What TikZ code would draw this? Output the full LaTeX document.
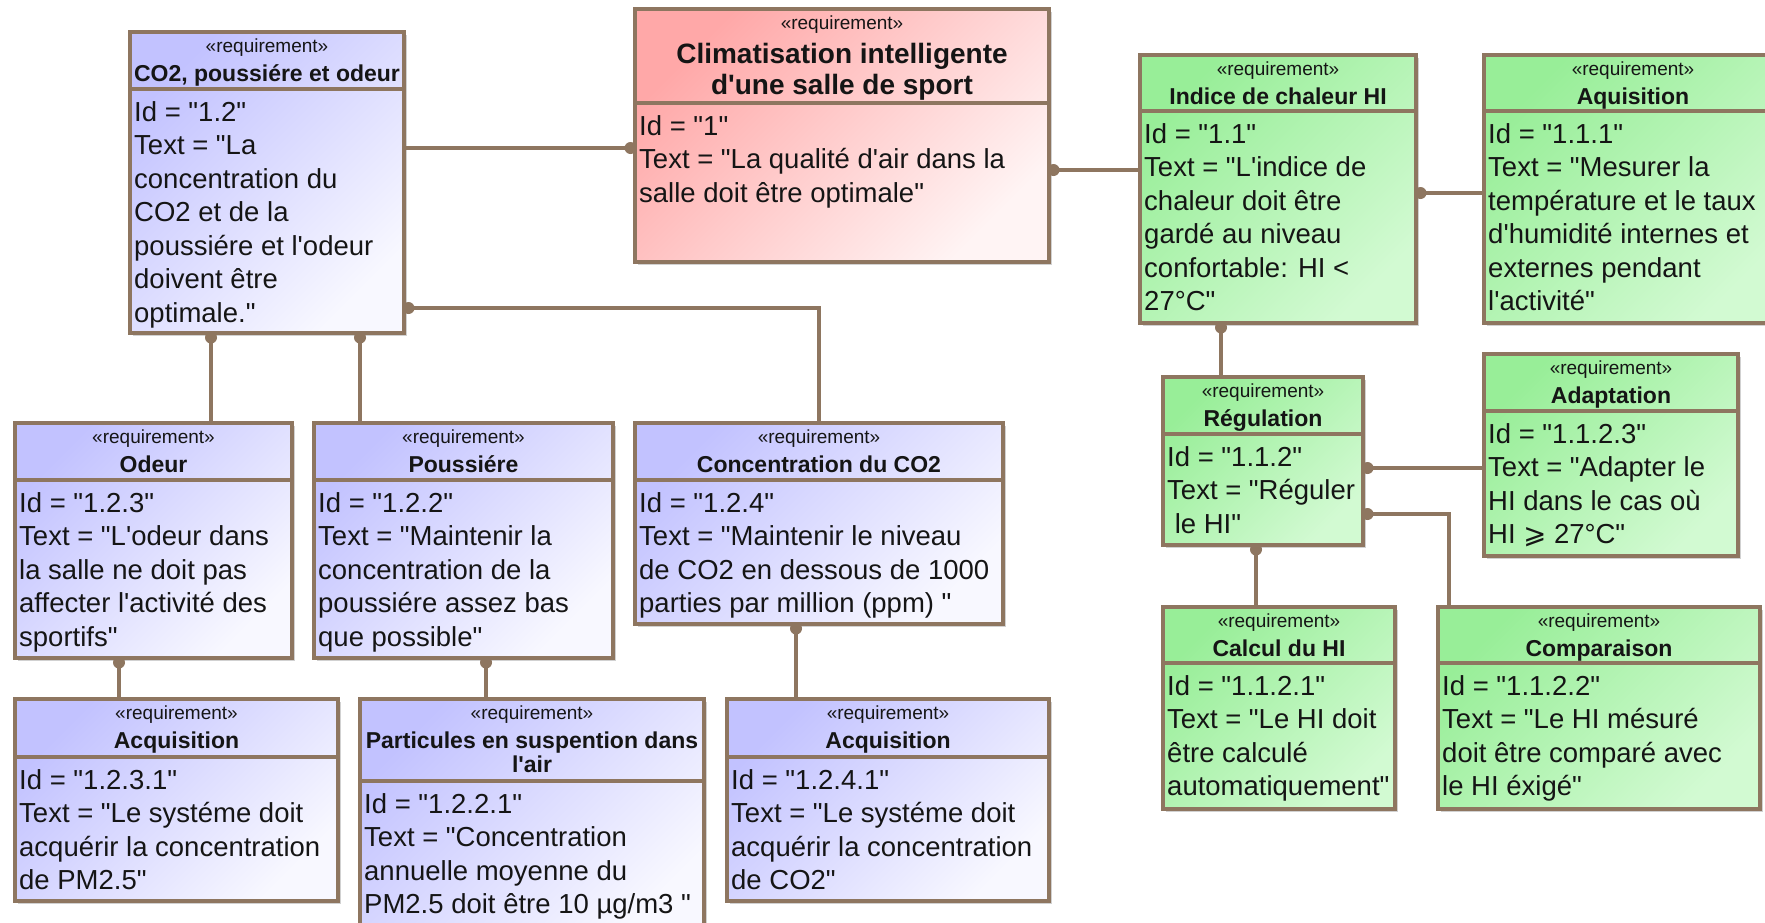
\documentclass[tikz,border=0pt]{standalone}
\usepackage{fontspec}
\setmainfont{Liberation Sans}[Ligatures=TeXOff]
\newfontfamily\symfont{DejaVu Sans}
\usetikzlibrary{shadows}
\definecolor{lnc}{HTML}{8E7660}
\definecolor{bluA}{HTML}{C2C2FF}
\definecolor{bluB}{HTML}{F8F8FF}
\definecolor{redA}{HTML}{FFA8A8}
\definecolor{redB}{HTML}{FFF4F4}
\definecolor{grnA}{HTML}{98EE98}
\definecolor{grnB}{HTML}{D2FAD2}
\definecolor{txc}{HTML}{151515}
\tikzset{
  box/.style={draw=lnc, line width=3.2pt, inner sep=0pt, outer sep=0pt,
    drop shadow={shadow xshift=2.5pt, shadow yshift=-2.5pt, opacity=0.18, fill=black}},
  bluebox/.style={box, top color=bluA, bottom color=bluB, shading angle=45},
  redbox/.style={box, top color=redA, bottom color=redB, shading angle=45},
  greenbox/.style={box, top color=grnA, bottom color=grnB, shading angle=45},
  sep/.style={draw=lnc, line width=3.2pt},
  stereo/.style={inner sep=0pt, text=txc, font=\fontsize{19}{22}\selectfont},
  ttl/.style={inner sep=0pt, text=txc, align=center, font=\bfseries\fontsize{23}{24}\selectfont},
  bigttl/.style={inner sep=0pt, text=txc, align=center, font=\bfseries\fontsize{28}{31}\selectfont},
  bodytxt/.style={inner sep=0pt, text=txc, align=left, font=\fontsize{27.5}{33.5}\selectfont},
  conn/.style={draw=lnc, line width=3.2pt},
  pin/.style={fill=lnc}
}
\newcommand{\reqbox}[9]{%
  \node[#2, minimum width={#6-#4}, minimum height={#7-#5}] (#1) at ({(#4+#6)/2},{(#5+#7)/2}) {};
  \draw[sep] (#4,#8) -- (#6,#8);
  \node[stereo, anchor=base] (#1-s) at ({(#4+#6)/2},{#5+20}) {«requirement»};
  \node[#3, anchor=north] (#1-t) at ({(#4+#6)/2},{#5+31}) {\rule{0pt}{18pt}#9};
}
\newcommand{\reqbody}[4]{%
  \node[bodytxt, anchor=north west] (#1-b) at ({#2+4},{#3+7}) {\rule{0pt}{25pt}#4};
}
\begin{document}
\begin{tikzpicture}[x=1pt,y=-1pt]
\useasboundingbox[fill=white] (0,0) rectangle (1765,922);

% boxes
\reqbox{A}{bluebox}{ttl}{130}{32}{404}{333}{89}{CO2, poussiére et odeur}
\reqbody{A}{130}{89}{Id = "1.2"\\Text = "La\\concentration du\\CO2 et de la\\poussiére et l'odeur\\doivent être\\optimale."}

\reqbox{B}{redbox}{bigttl}{635}{9}{1049}{262}{103}{\rule{0pt}{23pt}Climatisation intelligente\\d'une salle de sport}
\reqbody{B}{635}{103}{Id = "1"\\Text = "La qualité d'air dans la\\salle doit être optimale"}

\reqbox{C}{greenbox}{ttl}{1140}{55}{1416}{323}{111}{Indice de chaleur HI}
\reqbody{C}{1140}{111}{Id = "1.1"\\Text = "L'indice de\\chaleur doit être\\gardé au niveau\\confortable: HI <\\27°C"}

\reqbox{D}{greenbox}{ttl}{1484}{55}{1782}{323}{111}{Aquisition}
\reqbody{D}{1484}{111}{Id = "1.1.1"\\Text = "Mesurer la\\température et le taux\\d'humidité internes et\\externes pendant\\l'activité"}

\reqbox{E}{greenbox}{ttl}{1163}{377}{1363}{545}{434}{Régulation}
\reqbody{E}{1163}{434}{Id = "1.1.2"\\Text = "Réguler\\\hspace*{7.6pt}le HI"}

\reqbox{F}{greenbox}{ttl}{1484}{354}{1738}{556}{411}{Adaptation}
\reqbody{F}{1484}{411}{Id = "1.1.2.3"\\Text = "Adapter le\\HI dans le cas où\\HI {\symfont ⩾} 27°C"}

\reqbox{G}{greenbox}{ttl}{1163}{607}{1395}{809}{663}{Calcul du HI}
\reqbody{G}{1163}{663}{Id = "1.1.2.1"\\Text = "Le HI doit\\être calculé\\automatiquement"}

\reqbox{H}{greenbox}{ttl}{1438}{607}{1760}{809}{663}{Comparaison}
\reqbody{H}{1438}{663}{Id = "1.1.2.2"\\Text = "Le HI mésuré\\doit être comparé avec\\le HI éxigé"}

\reqbox{I}{bluebox}{ttl}{15}{423}{292}{658}{480}{Odeur}
\reqbody{I}{15}{480}{Id = "1.2.3"\\Text = "L'odeur dans\\la salle ne doit pas\\affecter l'activité des\\sportifs"}

\reqbox{J}{bluebox}{ttl}{314}{423}{613}{658}{480}{Poussiére}
\reqbody{J}{314}{480}{Id = "1.2.2"\\Text = "Maintenir la\\concentration de la\\poussiére assez bas\\que possible"}

\reqbox{K}{bluebox}{ttl}{635}{423}{1003}{624}{480}{Concentration du CO2}
\reqbody{K}{635}{480}{Id = "1.2.4"\\Text = "Maintenir le niveau\\de CO2 en dessous de 1000\\parties par million (ppm) "}

\reqbox{L}{bluebox}{ttl}{15}{699}{338}{901}{757}{Acquisition}
\reqbody{L}{15}{757}{Id = "1.2.3.1"\\Text = "Le systéme doit\\acquérir la concentration\\de PM2.5"}

\reqbox{M}{bluebox}{ttl}{360}{699}{704}{935}{781}{Particules en suspention dans\\l'air}
\reqbody{M}{360}{781}{Id = "1.2.2.1"\\Text = "Concentration\\annuelle moyenne du\\PM2.5 doit être 10 µg/m3 "}

\reqbox{N}{bluebox}{ttl}{727}{699}{1049}{901}{757}{Acquisition}
\reqbody{N}{727}{757}{Id = "1.2.4.1"\\Text = "Le systéme doit\\acquérir la concentration\\de CO2"}

% connector guide coordinates
\coordinate (hAB) at (0,148);
\coordinate (hAK) at (0,308);
\coordinate (vAI) at (211,0);
\coordinate (vAJ) at (360,0);
\coordinate (hBC) at (0,170);
\coordinate (hCD) at (0,193);
\coordinate (vCE) at (1221,0);
\coordinate (hEF) at (0,468);
\coordinate (hEH) at (0,514);
\coordinate (vEH) at (1449,0);
\coordinate (vEG) at (1256,0);
\coordinate (vIL) at (119,0);
\coordinate (vJM) at (486,0);
\coordinate (vKN) at (796,0);

% connectors
\draw[conn] (A.east |- hAB) -- (B.west |- hAB);
\fill[pin] (B.west |- hAB) ++(-4.5,0) circle[radius=6pt];

\draw[conn] (A.east |- hAK) -| (K.north);
\fill[pin] (A.east |- hAK) ++(4.5,0) circle[radius=6pt];

\draw[conn] (A.south -| vAI) -- (I.north -| vAI);
\fill[pin] (A.south -| vAI) ++(0,4.5) circle[radius=6pt];

\draw[conn] (A.south -| vAJ) -- (J.north -| vAJ);
\fill[pin] (A.south -| vAJ) ++(0,4.5) circle[radius=6pt];

\draw[conn] (B.east |- hBC) -- (C.west |- hBC);
\fill[pin] (B.east |- hBC) ++(4.5,0) circle[radius=6pt];

\draw[conn] (C.east |- hCD) -- (D.west |- hCD);
\fill[pin] (C.east |- hCD) ++(4.5,0) circle[radius=6pt];

\draw[conn] (C.south -| vCE) -- (E.north -| vCE);
\fill[pin] (C.south -| vCE) ++(0,4.5) circle[radius=6pt];

\draw[conn] (E.east |- hEF) -- (F.west |- hEF);
\fill[pin] (E.east |- hEF) ++(4.5,0) circle[radius=6pt];

\draw[conn] (E.east |- hEH) -| (H.north -| vEH);
\fill[pin] (E.east |- hEH) ++(4.5,0) circle[radius=6pt];

\draw[conn] (E.south -| vEG) -- (G.north -| vEG);
\fill[pin] (E.south -| vEG) ++(0,4.5) circle[radius=6pt];

\draw[conn] (I.south -| vIL) -- (L.north -| vIL);
\fill[pin] (I.south -| vIL) ++(0,4.5) circle[radius=6pt];

\draw[conn] (J.south -| vJM) -- (M.north -| vJM);
\fill[pin] (J.south -| vJM) ++(0,4.5) circle[radius=6pt];

\draw[conn] (K.south -| vKN) -- (N.north -| vKN);
\fill[pin] (K.south -| vKN) ++(0,4.5) circle[radius=6pt];
\end{tikzpicture}
\end{document}
